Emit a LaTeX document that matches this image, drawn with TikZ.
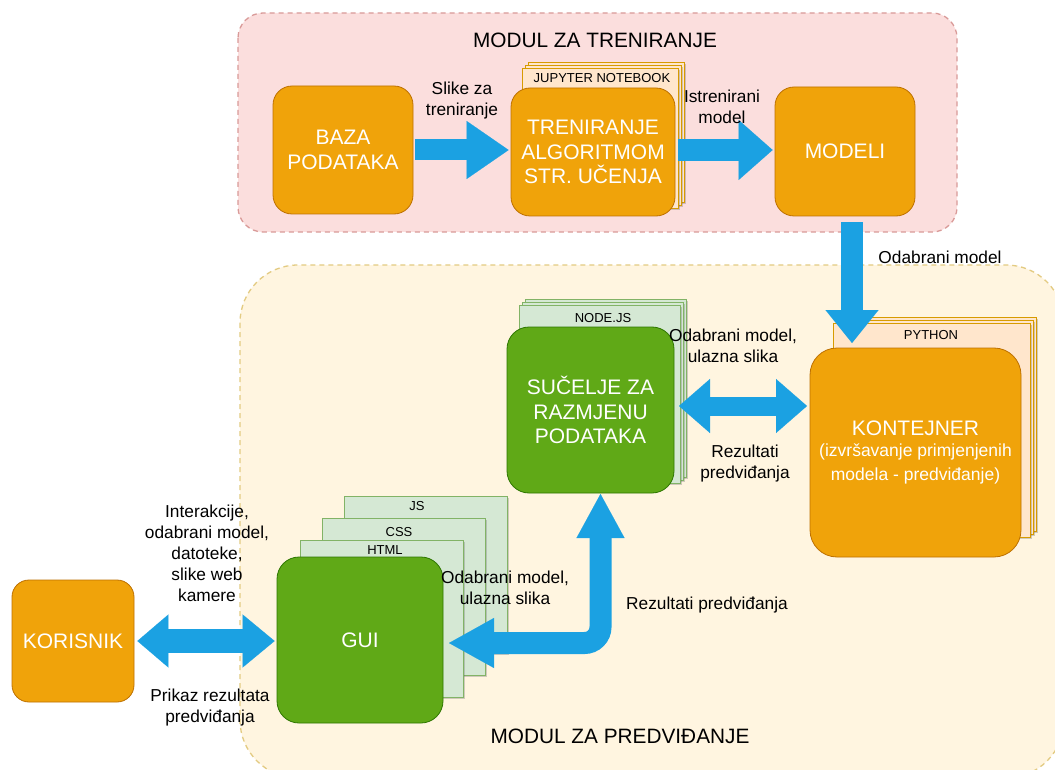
\documentclass[tikz,border=0pt]{standalone}
\usepackage{fontspec}
\setmainfont{Liberation Sans}
\usetikzlibrary{arrows.meta,shadows,calc}
\definecolor{orng}{HTML}{F0A30A}
\definecolor{orngd}{HTML}{BD7000}
\definecolor{grn}{HTML}{60A917}
\definecolor{grnd}{HTML}{2D7600}
\definecolor{pgreen}{HTML}{D5E8D4}
\definecolor{pgreend}{HTML}{82B366}
\definecolor{ppeach}{HTML}{FFE6CC}
\definecolor{ppeachd}{HTML}{D79B00}
\definecolor{arrowblue}{HTML}{1BA1E2}
\definecolor{pinkbg}{HTML}{FBDEDD}
\definecolor{pinkbd}{HTML}{D99A98}
\definecolor{yelbg}{HTML}{FFF5E0}
\definecolor{yelbd}{HTML}{E3CB82}
\begin{document}
\begin{tikzpicture}[x=1pt,y=-1pt,
  obox/.style={draw=orngd, fill=orng, text=white, align=center, inner sep=0pt, line width=0.8pt,
    font=\fontsize{21}{24.5}\selectfont},
  gbox/.style={draw=grnd, fill=grn, text=white, align=center, inner sep=0pt, line width=0.8pt,
    font=\fontsize{21}{24.5}\selectfont},
  pg/.style={draw=pgreend, fill=pgreen, inner sep=0pt, line width=0.7pt,
    drop shadow={shadow xshift=2pt,shadow yshift=-2pt,opacity=.3,fill=black!60}},
  pp/.style={draw=ppeachd, fill=ppeach, inner sep=0pt, line width=0.7pt,
    drop shadow={shadow xshift=2pt,shadow yshift=-2pt,opacity=.3,fill=black!60}},
  small/.style={font=\fontsize{13}{15}\selectfont, inner sep=0pt},
  lbl/.style={font=\fontsize{17.3}{21}\selectfont, align=center, inner sep=0pt},
  ttl/.style={font=\fontsize{20.8}{24}\selectfont, inner sep=0pt},
  barrow/.style={draw=arrowblue, line cap=butt, line join=miter},
]
\useasboundingbox (0,0) rectangle (1055,770);
\clip (0,0) rectangle (1055,770);
\fill[white] (0,0) rectangle (1055,770);

% containers
\draw[fill=pinkbg, draw=pinkbd, dash pattern=on 5pt off 4pt, line width=1.3pt, rounded corners=25pt]
  (238,13) rectangle (957,232);
\draw[fill=yelbg, draw=yelbd, dash pattern=on 5pt off 4pt, line width=1.3pt, rounded corners=58pt]
  (240,265) rectangle (1064,778);

\node[ttl] (t1) at (595,40) {MODUL ZA TRENIRANJE};
\node[ttl] (t2) at (620,736) {MODUL ZA PREDVIĐANJE};

% JUPYTER stack
\node[pp, minimum width=156pt, minimum height=140pt] (jp3) at (606,132) {};
\node[pp, minimum width=156pt, minimum height=140pt] (jp2) at (603,135) {};
\node[pp, minimum width=156pt, minimum height=140pt] (jp1) at (600,138) {};
\node[small] (jpl) at (602,78) {JUPYTER NOTEBOOK};

% PYTHON stack
\node[pp, minimum width=197pt, minimum height=214pt] (py3) at (937.5,424) {};
\node[pp, minimum width=197pt, minimum height=214pt] (py2) at (934.5,427) {};
\node[pp, minimum width=197pt, minimum height=214pt] (py1) at (931.5,430) {};
\node[small] (pyl) at (931,335) {PYTHON};

% NODE.JS stack
\node[pg, minimum width=161pt, minimum height=178pt] (nj3) at (605.5,388) {};
\node[pg, minimum width=161pt, minimum height=178pt] (nj2) at (602.5,391) {};
\node[pg, minimum width=161pt, minimum height=178pt] (nj1) at (599.5,394) {};
\node[small] (njl) at (603,318) {NODE.JS};

% GUI stack
\node[pg, minimum width=163pt, minimum height=157pt] (js) at (425.5,574.5) {};
\node[small] (jsl) at (417,506) {JS};
\node[pg, minimum width=163pt, minimum height=157pt] (css) at (403.5,596.5) {};
\node[small] (cssl) at (399,532) {CSS};
\node[pg, minimum width=163pt, minimum height=157pt] (html) at (381.5,618.5) {};
\node[small] (htmll) at (385,550) {HTML};

% main boxes
\node[obox, rounded corners=19pt, minimum width=140pt, minimum height=128pt] (baza) at (343,150) {BAZA\\PODATAKA};
\node[obox, rounded corners=19pt, minimum width=164pt, minimum height=128pt] (tren) at (593,152) {TRENIRANJE\\ALGORITMOM\\STR. UČENJA};
\node[obox, rounded corners=19pt, minimum width=140pt, minimum height=129pt] (modeli) at (845,151.5) {MODELI};
\node[obox, rounded corners=27pt, minimum width=211pt, minimum height=209pt] (kont) at (915.5,452.5)
  {KONTEJNER\\[-4pt]{\fontsize{17.5}{21}\selectfont (izvršavanje primjenjenih}\\{\fontsize{17.5}{21}\selectfont modela - predviđanje)}};
\node[gbox, rounded corners=22pt, minimum width=167pt, minimum height=166pt] (suc) at (590.5,410) {SUČELJE ZA\\RAZMJENU\\PODATAKA};
\node[gbox, rounded corners=22pt, minimum width=166pt, minimum height=166pt] (gui) at (360,640) {GUI};
\node[obox, rounded corners=17pt, minimum width=122pt, minimum height=122pt] (kor) at (73,641) {KORISNIK};

% connector end points
\coordinate (m1) at ($(modeli.south)+(7,6)$);
\coordinate (m2) at (852,343);
\coordinate (s1) at (679,406);
\coordinate (s2) at (807,406);
\coordinate (g1) at (449,643);
\coordinate (g2) at (600.5,494);

% arrows
\draw[barrow, line width=21pt, -{Triangle[length=42pt,width=58pt,line width=0.1pt]}]
  ($(baza.east)+(2,0)$) -- ($(baza.east -| tren.west)+(-2,0)$);
\draw[barrow, line width=22pt, -{Triangle[length=34pt,width=60pt,line width=0.1pt]}]
  ($(tren.east |- baza.east)+(3,0)$) -- ($(baza.east -| modeli.west)+(-2,0)$);
\draw[barrow, line width=22pt, -{Triangle[length=33pt,width=53pt,line width=0.1pt]}]
  (m1) -- (m2);
\draw[barrow, line width=19pt, {Triangle[length=31pt,width=54pt,line width=0.1pt]}-{Triangle[length=31pt,width=54pt,line width=0.1pt]}]
  (s1) -- (s2);
\draw[barrow, line width=24pt, {Triangle[length=31pt,width=53pt,line width=0.1pt]}-{Triangle[length=32pt,width=53pt,line width=0.1pt]}]
  ($(kor.east)+(3,0)$) -- ($(gui.west)+(-2,1)$);
\draw[barrow, line width=22pt, rounded corners=16pt, {Triangle[length=45pt,width=50pt,line width=0.1pt]}-{Triangle[length=44pt,width=48pt,line width=0.1pt]}]
  (g1) -| (g2);

% labels
\node[lbl] (l1) at (462,101) {Slike za\\treniranje};
\node[lbl] (l2) at (722,107) {Istrenirani\\model};
\node[lbl] (l3) at (940,257) {Odabrani model};
\node[lbl] (l4) at (733,346) {Odabrani model,\\ulazna slika};
\node[lbl] (l5) at (745,464) {Rezultati\\predviđanja};
\node[lbl] (l6) at (207,553) {Interakcije,\\odabrani model,\\datoteke,\\slike web\\kamere};
\node[lbl] (l7) at (210,708) {Prikaz rezultata\\predviđanja};
\node[lbl] (l8) at (505,588) {Odabrani model,\\ulazna slika};
\node[lbl] (l9) at (707,605) {Rezultati predviđanja};
\end{tikzpicture}
\end{document}
